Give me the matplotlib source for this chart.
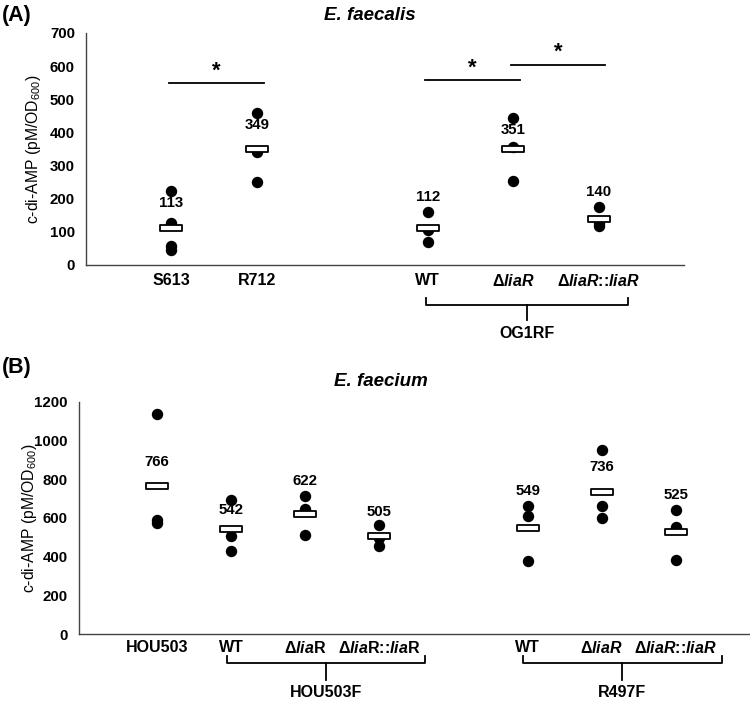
import matplotlib
matplotlib.use('Agg')
import matplotlib.pyplot as plt
from matplotlib.path import Path
import numpy as np

plt.rcParams['font.family'] = 'Liberation Sans'
plt.rcParams['mathtext.fontset'] = 'custom'
plt.rcParams['mathtext.rm'] = 'Liberation Sans:bold'
plt.rcParams['mathtext.it'] = 'Liberation Sans:italic:bold'
plt.rcParams['mathtext.bf'] = 'Liberation Sans:bold'
plt.rcParams['mathtext.sf'] = 'Liberation Sans'

# panel A - E. faecalis
labels_a = ['S613', 'R712', 'WT', r'Δ$\mathit{liaR}$', r'Δ$\mathit{liaR}$::$\mathit{liaR}$']
values_a = [[222, 127, 58, 45],
            [458, 340, 250],
            [160, 106, 70],
            [445, 355, 253],
            [174, 128, 118]]
sig_pairs_a = [(0, 1), (2, 3), (3, 4)]
group_a = ('OG1RF', 2, 4)

# panel B - E. faecium
labels_b = ['HOU503', 'WT', r'Δ$\mathit{lia}$R', r'Δ$\mathit{lia}$R::$\mathit{lia}$R',
            'WT', r'Δ$\mathit{liaR}$', r'Δ$\mathit{liaR}$::$\mathit{liaR}$']
values_b = [[1135, 590, 573],
            [692, 505, 430],
            [712, 645, 510],
            [565, 495, 455],
            [660, 610, 378],
            [950, 660, 598],
            [640, 555, 380]]
groups_b = [('HOU503F', 1, 3), ('R497F', 4, 6)]

# layout of the text above each mean (data units)
label_y_a = [188, 423, 205, 408, 220]
label_y_b = [890, 640, 792, 632, 740, 861, 718]
sig_y_a = [549, 557, 604]

mean_marker = Path([(-1, -0.26), (1, -0.26), (1, 0.26), (-1, 0.26), (-1, -0.26)],
                   [Path.MOVETO, Path.LINETO, Path.LINETO, Path.LINETO, Path.CLOSEPOLY])

fig = plt.figure(figsize=(7.5, 7.01), dpi=100)
ax_a = fig.add_axes([86/750, 1-265/701, 598/750, 232/701])
ax_b = fig.add_axes([79/750, 1-634/701, 671/750, 232.3/701])


def draw_panel(ax, labels, values, label_y, pos, ylim, step, pad):
    for x, vals, ly in zip(pos, values, label_y):
        ax.plot([x]*len(vals), vals, 'o', color='black', ms=7.2, zorder=2, clip_on=False)
        m = np.mean(vals)
        ax.plot([x], [m], marker=mean_marker, ms=16, mfc='white', mec='black',
                mew=1.3, zorder=3, ls='none')
        ax.text(x, ly, '%d' % round(m), ha='center', va='center',
                fontsize=10.8, fontweight='bold')
    ax.set_ylim(*ylim)
    ax.set_yticks(np.arange(ylim[0], ylim[1] + 1, step))
    ax.set_xticks(pos, labels)
    ax.tick_params(length=0, labelsize=11.5)
    ax.tick_params(axis='y', pad=8, labelsize=10.8)
    ax.tick_params(axis='x', pad=pad)
    for t in ax.get_xticklabels() + ax.get_yticklabels():
        t.set_fontweight('bold')
    for s in ['top', 'right']:
        ax.spines[s].set_visible(False)
    for s in ['left', 'bottom']:
        ax.spines[s].set_color('#444444')
        ax.spines[s].set_linewidth(1)
    ax.set_ylabel(r'c-di-AMP (pM/OD$_{\mathsf{600}}$)', fontsize=11.3)


def bracket(ax, name, x0, x1, y, up, low, ty):
    xm = (x0 + x1) / 2
    ax.plot([x0, x0, x1, x1], [up, y, y, up], color='black', lw=1.3, clip_on=False)
    ax.plot([xm, xm], [y, low], color='black', lw=1.3, clip_on=False)
    ax.text(xm, ty, name, ha='center', va='center', fontsize=11.5, fontweight='bold')


pos_a = [0, 1, 3, 4, 5]
draw_panel(ax_a, labels_a, values_a, label_y_a, pos_a, (0, 700), 100, 6)
ax_a.set_xlim(-1, 6)
ax_a.yaxis.set_label_coords(-0.072, 0.5)
for (i, j), sy in zip(sig_pairs_a, sig_y_a):
    xl, xr = pos_a[i] - 0.03, pos_a[j] + 0.08
    ax_a.plot([xl, xr], [sy, sy], color='black', lw=1.3, clip_on=False)
    ax_a.text((xl + xr) / 2, sy + 5, '*', ha='center', va='bottom',
              fontsize=16, fontweight='bold')
name, g0, g1 = group_a
bracket(ax_a, name, pos_a[g0] - 0.02, pos_a[g1] + 0.35, -121, -100, -166, -207)

pos_b = [0, 1, 2, 3, 5, 6, 7]
draw_panel(ax_b, labels_b, values_b, label_y_b, pos_b, (0, 1200), 200, 4)
ax_b.set_xlim(-1.05, 8)
ax_b.yaxis.set_label_coords(-0.06, 0.5)
for name, g0, g1 in groups_b:
    bracket(ax_b, name, pos_b[g0] - 0.06, pos_b[g1] + 0.62, -150, -112, -238, -300)

fig.text(2/750, 1-16/701, '(A)', fontsize=15.5, fontweight='bold', va='center', ha='left')
fig.text(2/750, 1-368/701, '(B)', fontsize=15.5, fontweight='bold', va='center', ha='left')
fig.text(370/750, 1-16/701, 'E. faecalis', fontsize=13.5, fontweight='bold',
         style='italic', ha='center', va='center')
fig.text(381/750, 1-382/701, 'E. faecium', fontsize=13.5, fontweight='bold',
         style='italic', ha='center', va='center')

fig.savefig('out.png', dpi=100)
